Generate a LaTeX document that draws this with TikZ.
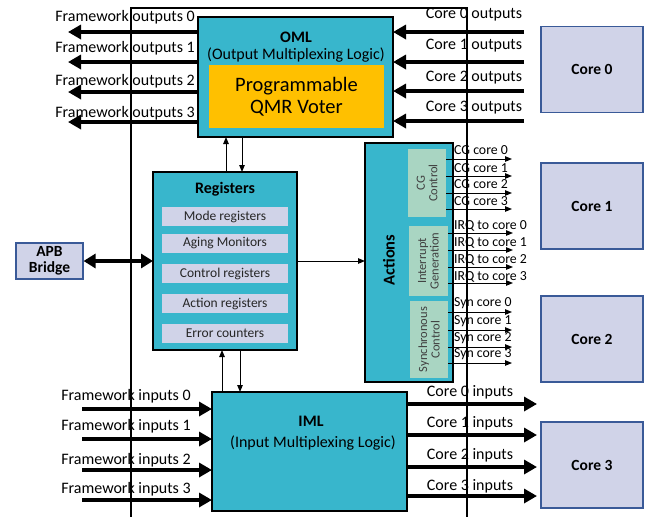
\documentclass[tikz,border=0pt]{standalone}
\usepackage{fontspec}
\setmainfont{Carlito}
\usetikzlibrary{arrows.meta}
\definecolor{blockblue}{HTML}{38B6CC}
\definecolor{voterorange}{HTML}{FFC000}
\definecolor{lavender}{HTML}{D0D3E8}
\definecolor{coreborder}{HTML}{3A5A98}
\definecolor{sage}{HTML}{A9D5C2}
\definecolor{subtext}{HTML}{404040}
\newcommand{\fs}[1]{\fontsize{#1}{#1}\selectfont}
\begin{document}
\begin{tikzpicture}[x=1pt,y=-1pt,
  block/.style={draw=black,line width=2.4pt,fill=blockblue,inner sep=0pt,outer sep=0pt},
  corebox/.style={draw=coreborder,line width=1.1pt,fill=lavender,minimum width=102pt,
    minimum height=86pt,font=\bfseries\fs{15.5},inner sep=0pt},
  regitem/.style={fill=lavender,minimum width=126pt,minimum height=19pt,inner sep=0pt,
    font=\fs{13.5},text=black!85},
  subunit/.style={fill=sage,inner sep=0pt,font=\fs{12.5},text=subtext,align=center,rotate=90},
  lbl/.style={font=\fs{16},inner sep=0pt},
  sig/.style={font=\fs{13.8},inner sep=0pt,anchor=west},
  fat/.style={line width=4.5pt,-{Triangle[length=13pt,width=14pt]}},
  thin/.style={line width=1pt,-{Triangle[length=7pt,width=5.5pt]}},
  frame/.style={line width=1.5pt}]
\useasboundingbox (0,0) rectangle (651,517);

% ---- output multiplexing logic ----
\node[block,minimum width=195pt,minimum height=120pt] (oml) at (295.5,77) {};
\node[font=\bfseries\fs{16}] (omltitle) at (296,37) {OML};
\node[font=\fs{16}] (omlsub) at (296,55) {(Output Multiplexing Logic)};
\node[fill=voterorange,minimum width=175pt,minimum height=63pt,inner sep=0pt,
  font=\fs{20.5},align=center] (voter) at (296.5,96.5)
  {Programmable\\[2pt]QMR Voter};

% ---- registers ----
\node[block,minimum width=144pt,minimum height=178pt] (regs) at (225,261) {};
\node[font=\bfseries\fs{16}] (regtitle) at (225,189) {Registers};
\node[regitem] (mode)  at (225,216.5) {Mode registers};
\node[regitem] (aging) at (225,243.5) {Aging Monitors};
\node[regitem] (ctrl)  at (225,273.5) {Control registers};
\node[regitem] (act)   at (225,303.5) {Action registers};
\node[regitem] (err)   at (225,333.5) {Error counters};

% ---- APB bridge ----
\node[draw=coreborder,line width=1.1pt,fill=lavender,minimum width=67pt,minimum height=36pt,
  inner sep=0pt,align=center,font=\bfseries\fs{15.5}] (apb) at (49.5,261) {APB\\[1pt]Bridge};

% ---- actions ----
\node[block,minimum width=88pt,minimum height=239pt] (actions) at (409,262.5) {};
\node[font=\bfseries\fs{16.5},rotate=90] (acttitle) at (389,260) {Actions};
\node[subunit,minimum width=68pt,minimum height=38pt] (cg) at (427,183) {CG\\Control};
\node[subunit,minimum width=70pt,minimum height=39pt] (irq) at (428.5,261) {Interrupt\\Generation};
\node[subunit,minimum width=77pt,minimum height=38pt] (syn) at (429,339.5) {Synchronous\\Control};

% ---- input multiplexing logic ----
\node[block,minimum width=195pt,minimum height=119pt] (iml) at (309.5,451.5) {};
\node[font=\bfseries\fs{16}] (imltitle) at (311,421) {IML};
\node[font=\fs{16}] (imlsub) at (313,443) {(Input Multiplexing Logic)};

% ---- cores ----
\node[corebox] (core0) at (592,69.5) {Core 0};
\node[corebox] (core1) at (592,206) {Core 1};
\node[corebox] (core2) at (592,339) {Core 2};
\node[corebox] (core3) at (592,465) {Core 3};

% ---- framework outputs (OML -> left) ----
\foreach \i/\ya/\yl in {0/32/17,1/62/48,2/92/81,3/122/113}{
  \coordinate (fo\i) at (68,\ya);
  \draw[fat] (oml.west |- fo\i) -- (fo\i);
  \node[lbl,anchor=east] (folab\i) at (195,\yl) {Framework outputs \i};
}

% ---- core outputs (right -> OML) ----
\foreach \i/\ya/\yl in {0/32/15,1/62/46,2/91/78,3/121/108}{
  \coordinate (co\i) at (524,\ya);
  \draw[fat] (co\i) -- (oml.east |- co\i);
  \node[lbl] (colab\i) at (474,\yl) {Core \i\ outputs};
}

% ---- framework inputs (left -> IML) ----
\foreach \i/\ya/\yl in {0/409/396,1/439/426,2/470/460,3/500/489}{
  \coordinate (fi\i) at (82,\ya);
  \draw[fat] (fi\i) -- (iml.west |- fi\i);
  \node[lbl] (filab\i) at (126,\yl) {Framework inputs \i};
}

% ---- core inputs (IML -> right) ----
\foreach \i/\ya/\yl in {0/404/392,1/435/423,2/467/455,3/496/486}{
  \coordinate (ci\i) at (537,\ya);
  \draw[fat] (iml.east |- ci\i) -- (ci\i);
  \node[lbl] (cilab\i) at (470,\yl) {Core \i\ inputs};
}

% ---- action signals ----
\foreach \i/\ya/\yl in {0/159/150,1/176/168,2/193/184,3/209/201}{
  \coordinate (cgo\i) at (512,\ya);
  \draw[thin] (cg.south |- cgo\i) -- (cgo\i);
  \node[sig] (cglab\i) at (454,\yl) {CG core \i};
}
\foreach \i/\ya/\yl in {0/233/226,1/250/243,2/267/260,3/283/277}{
  \coordinate (irqo\i) at (513,\ya);
  \draw[thin] (irq.south |- irqo\i) -- (irqo\i);
  \node[sig] (irqlab\i) at (454,\yl) {IRQ to core \i};
}
\foreach \i/\ya/\yl in {0/312/303,1/330/321,2/347/338,3/363/354}{
  \coordinate (syno\i) at (512,\ya);
  \draw[thin] (syn.south |- syno\i) -- (syno\i);
  \node[sig] (synlab\i) at (454,\yl) {Syn core \i};
}

% ---- register bus ----
\draw[line width=3.5pt,{Triangle[length=12pt,width=14pt]}-{Triangle[length=12pt,width=14pt]}]
  (apb.east) -- (regs.west);
\draw[thin] (regs.east) -- (actions.west |- regs.east);

\coordinate (upA) at (226,0);
\coordinate (dnA) at (242,0);
\coordinate (upB) at (222,0);
\coordinate (dnB) at (240,0);
\draw[thin] (regs.north -| upA) -- (oml.south -| upA);
\draw[thin] (oml.south -| dnA) -- (regs.north -| dnA);
\draw[thin] (iml.north -| upB) -- (regs.south -| upB);
\draw[thin] (regs.south -| dnB) -- (iml.north -| dnB);

% ---- outer boundary ----
\coordinate (fbl) at (131,517);
\coordinate (ftl) at (131,8);
\coordinate (ftr) at (467,8);
\coordinate (fbr) at (467,517);
\draw[frame] (fbl) -- (ftl) -- (ftr) -- (fbr);
\end{tikzpicture}
\end{document}
